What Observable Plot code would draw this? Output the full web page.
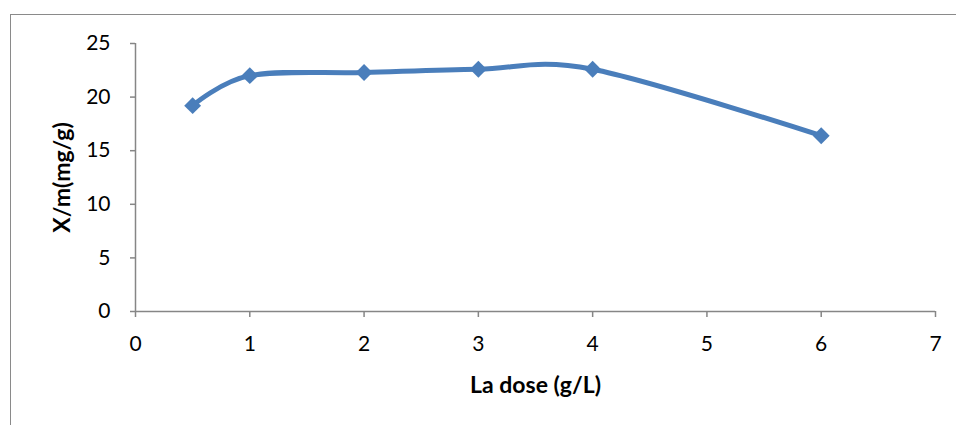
<!DOCTYPE html>
<html>
<head>
<meta charset="utf-8">
<script src="https://cdn.jsdelivr.net/npm/d3@7"></script>
<script src="https://cdn.jsdelivr.net/npm/@observablehq/plot@0.6"></script>
<style>
  html, body { margin: 0; padding: 0; background: #fff; }
  #wrap { position: relative; width: 956px; height: 425px; overflow: hidden; }
  #border { position: absolute; left: 10px; top: 14px; width: 1000px; height: 500px;
            border-left: 1.5px solid #8a8a8a; border-top: 1.5px solid #8a8a8a; }
  #chart { position: absolute; left: 0; top: 0; }
</style>
</head>
<body>
<div id="wrap"><div id="border"></div><div id="chart"></div></div>
<script>
// Adsorption capacity X/m (mg/g) versus adsorbent dose (g/L)
const doses = [0.5, 1, 2, 3, 4, 6];
const capacity = [19.2, 22.0, 22.3, 22.6, 22.6, 16.4];
const xTicks = [0, 1, 2, 3, 4, 5, 6, 7];
const yTicks = [0, 5, 10, 15, 20, 25];
const xLabel = "La dose (g/L)";
const yLabel = "X/m(mg/g)";

const rows = doses.map((d, i) => ({dose: d, q: capacity[i]}));
const axisGray = "#868686";
const blue = "#4a7ebb";
const font = "Lato, 'Open Sans', sans-serif";

const chart = Plot.plot({
  width: 956,
  height: 425,
  marginLeft: 135,
  marginRight: 21,
  marginTop: 43,
  marginBottom: 114,
  style: {fontFamily: font, fontSize: "21px", color: "#000", background: "transparent"},
  x: {domain: [0, 7]},
  y: {domain: [0, 25]},
  marks: [
    Plot.axisX(xTicks, {tickSize: 6, tickPadding: 19, tickFormat: "d", stroke: axisGray, strokeWidth: 1.5, label: null, fontSize: 21}),
    Plot.axisY(yTicks, {tickSize: 5, tickPadding: 20, tickFormat: "d", stroke: axisGray, strokeWidth: 1.5, label: null, fontSize: 21}),
    Plot.ruleY([0], {stroke: axisGray, strokeWidth: 1.5}),
    Plot.ruleX([0], {stroke: axisGray, strokeWidth: 1.5}),
    Plot.line(rows, {x: "dose", y: "q", stroke: blue, strokeWidth: 5, curve: "cardinal"}),
    Plot.dot(rows, {x: "dose", y: "q", symbol: "diamond2", r: 7.6, fill: blue, stroke: "none"}),
    Plot.text([xLabel], {frameAnchor: "bottom", textAnchor: "middle", lineAnchor: "middle", dy: 74, fontWeight: "bold", fontSize: 23}),
    Plot.text([yLabel], {frameAnchor: "left", textAnchor: "middle", lineAnchor: "middle", dx: -73, rotate: -90, fontWeight: "bold", fontSize: 23})
  ]
});
document.getElementById("chart").appendChild(chart);
</script>
</body>
</html>
